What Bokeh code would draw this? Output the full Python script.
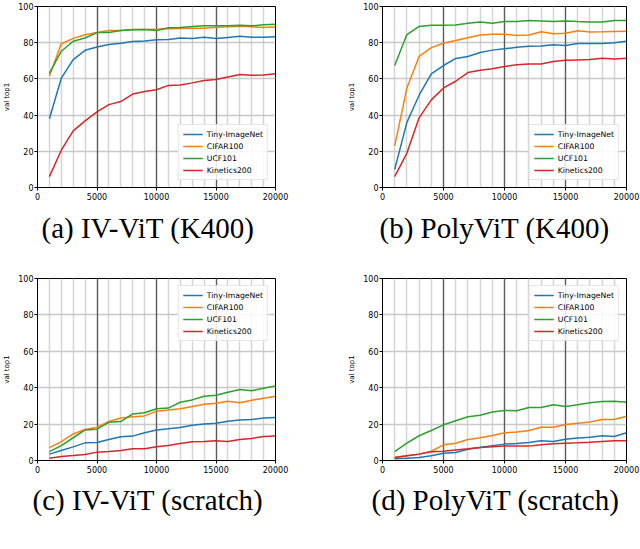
from bokeh.plotting import figure
from bokeh.layouts import gridplot
from bokeh.models import FixedTicker, Grid, Title, Range1d, SingleIntervalTicker
from bokeh.embed import file_html
from bokeh.resources import INLINE

steps = [1000, 2000, 3000, 4000, 5000, 6000, 7000, 8000, 9000, 10000,
         11000, 12000, 13000, 14000, 15000, 16000, 17000, 18000, 19000, 20000]
series_names = ["Tiny-ImageNet", "CIFAR100", "UCF101", "Kinetics200"]
series_colors = ["#1f77b4", "#ff7f0e", "#2ca02c", "#d62728"]
x_ticks = [0, 5000, 10000, 15000, 20000]
y_ticks = [0, 20, 40, 60, 80, 100]
captions = ["(a) IV-ViT (K400)", "(b) PolyViT (K400)",
            "(c) IV-ViT (scratch)", "(d) PolyViT (scratch)"]
y_label = "val top1"

# (a) IV-ViT (K400)
a_tiny = [38, 60.4, 70.7, 75.8, 77.6, 79, 79.7, 80.6, 81, 81.6,
          81.8, 82.6, 82.3, 83, 82.3, 82.9, 83.5, 83, 83, 83.3]
a_cifar = [61.6, 79.4, 82.4, 84.4, 85.6, 86.7, 86.8, 87.3, 87.3, 87.5,
           87.7, 87.9, 88, 88, 88.6, 88.8, 89.1, 88.8, 88.4, 88.8]
a_ucf = [63, 75.3, 80.8, 82.6, 85.6, 85.6, 86.7, 87.2, 87.3, 86.8,
         88.2, 88.4, 89, 89.3, 89.4, 89.4, 89.6, 89.3, 89.9, 90.2]
a_kin = [6, 20.6, 31.3, 36.8, 41.8, 45.8, 47.5, 51.6, 53, 54,
         56.4, 56.6, 57.8, 59.1, 59.7, 61, 62.4, 62, 62.2, 62.8]

# (b) PolyViT (K400)
b_tiny = [10, 36, 51, 62.8, 67.4, 71.3, 72.4, 74.6, 75.9, 76.6,
          77.5, 78, 78.2, 78.8, 78.4, 79.6, 79.6, 79.6, 80, 80.8]
b_cifar = [23, 55, 72.4, 77.3, 79.7, 81.2, 82.7, 84.2, 84.7, 84.7,
           84, 84.2, 86, 85, 85.2, 86.6, 85.9, 86, 86.2, 86.3]
b_ucf = [67.4, 84.5, 89, 89.7, 89.7, 89.8, 90.8, 91.5, 90.8, 91.7,
         91.7, 92.2, 92, 91.7, 92, 91.7, 91.5, 91.5, 92.2, 92.3]
b_kin = [6, 19, 38.5, 48.4, 55, 58.7, 63.5, 64.8, 65.6, 66.9,
         67.8, 68.2, 68.2, 69.6, 70.3, 70.5, 70.7, 71.4, 71, 71.4]

# (c) IV-ViT (scratch)
c_tiny = [3.5, 5.5, 7.5, 9.7, 9.9, 11.5, 13, 13.4, 15.2, 16.8,
          17.4, 18.1, 19.4, 20.1, 20.5, 21.6, 22.3, 22.5, 23.4, 23.6]
c_cifar = [7.1, 10.4, 14.6, 17, 18.3, 21.4, 23.3, 24, 24.5, 27.1,
           27.8, 28.4, 29.7, 30.9, 31.5, 32.6, 31.7, 33.1, 34.2, 35.3]
c_ucf = [4.9, 8.2, 12.5, 16.8, 17.2, 21, 21.4, 25.6, 26.2, 28.4,
         28.8, 32, 33.3, 35.3, 35.9, 37.5, 39, 38.3, 39.7, 41]
c_kin = [1.3, 2.2, 2.7, 3.3, 4.6, 4.9, 5.5, 6.4, 6.4, 7.5,
         8.2, 9.3, 10.3, 10.4, 10.8, 10.4, 11.5, 12.1, 13.2, 13.4]

# (d) PolyViT (scratch)
d_tiny = [0.9, 1.3, 1.6, 2.6, 4, 4.4, 6.2, 7.1, 8.1, 9,
          9.3, 9.9, 10.8, 10.4, 11.7, 12.3, 12.8, 13.6, 13.2, 15.2]
d_cifar = [1.6, 2.6, 3.5, 5.1, 8.6, 9.5, 11.5, 12.5, 13.7, 15.2,
           15.7, 16.5, 18.3, 18.3, 19.8, 20.5, 21.2, 22.5, 22.5, 24.3]
d_ucf = [4.9, 9.5, 13.6, 16.5, 19.6, 21.8, 24, 24.9, 26.7, 27.5,
         27.3, 29.1, 29.1, 30.6, 29.7, 30.6, 31.7, 32.4, 32.6, 32]
d_kin = [1.6, 2.6, 3.5, 4.8, 5.1, 5.8, 6.4, 7.1, 7.5, 7.9,
         7.9, 7.9, 8.6, 9.2, 9.5, 9.7, 10, 10.4, 10.8, 10.8]

panels = [
    dict(series=[a_tiny, a_cifar, a_ucf, a_kin], legend="bottom_right"),
    dict(series=[b_tiny, b_cifar, b_ucf, b_kin], legend="bottom_right"),
    dict(series=[c_tiny, c_cifar, c_ucf, c_kin], legend="top_right"),
    dict(series=[d_tiny, d_cifar, d_ucf, d_kin], legend="top_right"),
]

TICK_FONT = "DejaVu Sans"


def make_panel(idx, width, height, bl, fw, bt, fh, cap_offset, cap_standoff):
    info = panels[idx]
    p = figure(width=width, height=height, output_backend="svg",
               toolbar_location=None, title=None,
               x_range=Range1d(0, 20000), y_range=Range1d(0, 100),
               min_border_left=bl, min_border_right=width - bl - fw,
               min_border_top=bt, min_border_bottom=height - bt - fh)
    p.background_fill_color = "white"
    p.border_fill_color = "white"
    p.outline_line_color = "black"
    p.outline_line_width = 1

    # grids
    p.xgrid.ticker = SingleIntervalTicker(interval=1000, num_minor_ticks=0)
    p.xgrid.grid_line_color = "#d4d4d4"
    p.xgrid.grid_line_width = 1.5
    p.ygrid.ticker = FixedTicker(ticks=y_ticks)
    p.ygrid.grid_line_color = "#c8c8c8"
    p.ygrid.grid_line_width = 1.3
    g2 = Grid(dimension=0, ticker=SingleIntervalTicker(interval=5000, num_minor_ticks=0),
              grid_line_color="#333333", grid_line_width=1.3, grid_line_alpha=0.75)
    p.center.append(g2)

    # axes
    for ax in (p.xaxis[0], p.yaxis[0]):
        ax.major_label_text_font = TICK_FONT
        ax.major_label_text_font_size = "8px"
        ax.major_label_text_color = "black"
        ax.axis_line_color = "black"
        ax.major_tick_line_color = "black"
        ax.major_tick_out = 3
        ax.major_tick_in = 0
        ax.minor_tick_line_color = None
    p.xaxis.ticker = FixedTicker(ticks=x_ticks)
    p.yaxis.ticker = FixedTicker(ticks=y_ticks)
    p.xaxis.major_label_standoff = 2
    p.yaxis.major_label_standoff = 1
    p.yaxis.axis_label = y_label
    p.yaxis.axis_label_text_font = TICK_FONT
    p.yaxis.axis_label_text_font_size = "7px"
    p.yaxis.axis_label_text_font_style = "normal"
    p.yaxis.axis_label_text_color = "black"
    p.yaxis.axis_label_standoff = 4

    for name, color, vals in zip(series_names, series_colors, info["series"]):
        p.line(steps, vals, line_color=color, line_width=1.5, legend_label=name)

    lg = p.legend[0]
    lg.location = info["legend"]
    lg.label_text_font = TICK_FONT
    lg.label_text_font_size = "7.7px"
    lg.label_text_color = "black"
    lg.glyph_width = 20
    lg.glyph_height = 10
    lg.label_height = 10
    lg.label_standoff = 4
    lg.spacing = 2
    lg.padding = 4
    lg.margin = 7
    lg.border_line_color = "#cccccc"
    lg.border_line_width = 1
    lg.background_fill_alpha = 0.85

    cap = Title(text=captions[idx], align="left", offset=cap_offset,
                text_font="Liberation Serif", text_font_size="29px",
                text_font_style="normal", text_color="black",
                standoff=cap_standoff)
    p.add_layout(cap, "below")
    return p


W = 320
H1, H2 = 270, 279
pa = make_panel(0, W, H1, 32, 243, 6, 181, 4, 14)
pb = make_panel(1, W, H1, 62, 244, 6, 181, -3, 14)
pc = make_panel(2, W, H2, 32, 243, 8, 182, -5, 12)
pd = make_panel(3, W, H2, 62, 244, 8, 182, -11, 12)

grid = gridplot([[pa, pb], [pc, pd]], toolbar_location=None)

open("out.html", "w").write(file_html(grid, INLINE))
